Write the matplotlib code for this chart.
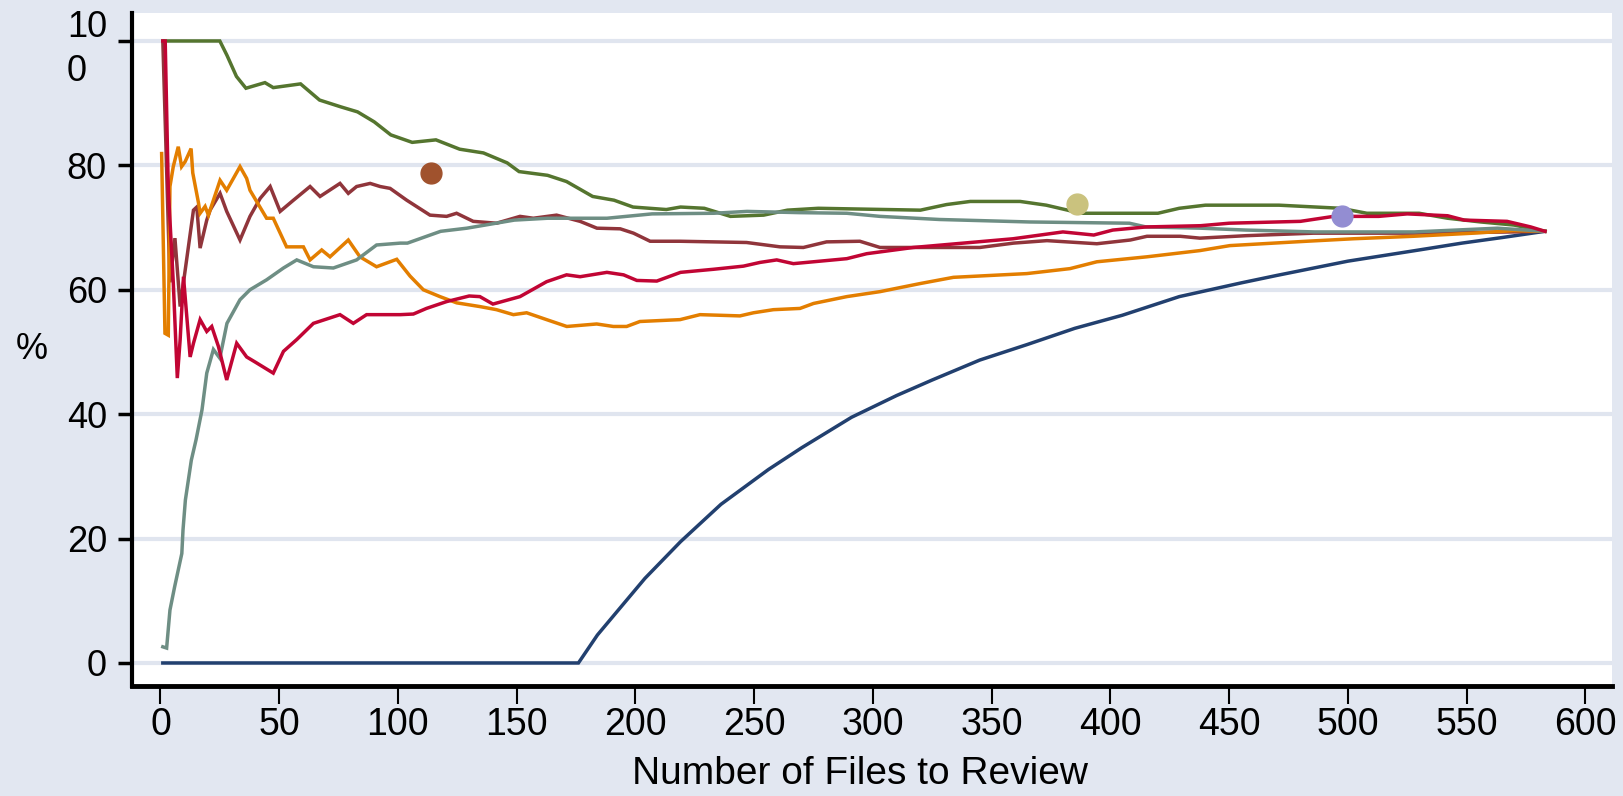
"""Cumulative percentage by number of files reviewed, Stata s2color look."""

import matplotlib
matplotlib.use("Agg")
import matplotlib.pyplot as plt


# DATA

navy_x = [1, 176, 184, 193, 204, 219, 236, 256, 270, 291, 310, 325, 345, 365, 385, 405, 429,
          455, 470, 500, 515, 530, 548, 565, 583]
navy_y = [0, 0, 4.5, 8.6, 13.6, 19.5, 25.5, 31.1, 34.6, 39.5, 43.0, 45.5, 48.7, 51.2, 53.8,
          55.9, 58.9, 61.1, 62.3, 64.6, 65.5, 66.4, 67.5, 68.4, 69.4]

maroon_x = [1, 4, 6.1, 8.3, 13.9, 15.3, 16.7, 19.5, 20.9, 25.1, 27.9, 33.5, 37.7, 42, 46.2,
            50.4, 56, 63, 67.2, 75.6, 79.1, 82.6, 88.3, 92.5, 96.7, 103.7, 113.5, 120.5,
            124.7, 131.7, 141.5, 151.4, 157, 166.8, 176.7, 183.8, 193.6, 199.2, 206.2,
            218.8, 246.8, 260.9, 270.7, 280.5, 294.5, 303, 345, 359.2, 373.3, 394.3,
            408.4, 415.4, 429.4, 437.7, 457.4, 485.5, 527.6, 569.7, 583]
maroon_y = [100, 61.2, 68.3, 57.3, 72.8, 73.3, 66.7, 71.2, 72.8, 75.5, 72.6, 68.0, 71.8, 74.7,
            76.6, 72.6, 74.4, 76.6, 75.0, 77.1, 75.5, 76.6, 77.1, 76.6, 76.3, 74.4, 72.0,
            71.8, 72.3, 71.0, 70.7, 71.8, 71.5, 72.0, 71.0, 69.9, 69.8, 69.1, 67.8, 67.8,
            67.6, 66.9, 66.8, 67.7, 67.8, 66.8, 66.8, 67.5, 67.9, 67.4, 68.0, 68.6, 68.6,
            68.3, 68.7, 69.1, 69.1, 69.3, 69.4]

green_x = [2, 25, 28, 32, 36, 44, 47.5, 59, 67, 76, 83, 90, 97, 106, 116, 126, 136, 146, 151,
           163, 171, 182, 191, 199, 213, 219, 229, 240, 254, 264, 277, 320, 331, 341, 362,
           373, 382, 387, 420, 429, 440, 471, 497, 508, 530, 542, 556, 570, 583]
green_y = [100, 100, 97.7, 94.3, 92.4, 93.3, 92.5, 93.1, 90.5, 89.4, 88.6, 87.0, 84.9, 83.7,
           84.1, 82.6, 82.0, 80.4, 79.0, 78.4, 77.4, 75.0, 74.4, 73.3, 72.9, 73.3, 73.1,
           71.8, 72.0, 72.8, 73.1, 72.8, 73.7, 74.2, 74.2, 73.6, 72.8, 72.3, 72.3, 73.1,
           73.6, 73.6, 73.1, 72.3, 72.3, 71.5, 70.9, 70.4, 69.4]

orange_x = [0.5, 1.9, 3.3, 4, 5.4, 7.5, 8.9, 10.4, 12.9, 13.6, 16, 16.7, 18.8, 20.2, 25.1,
            27.9, 33.5, 36.3, 37.7, 44.7, 47.5, 53.1, 60.2, 63, 67.9, 71.4, 79.1, 84, 91,
            99.5, 105.1, 110.7, 117.7, 124.7, 134.5, 141.5, 148.6, 154.2, 162.6, 171.1,
            183.7, 190.7, 196.3, 201.9, 218.8, 227.2, 244, 249.7, 258.1, 269.3, 275, 289,
            303, 319.9, 333.9, 364.8, 383, 394.3, 415.4, 437.7, 450.3, 482.6, 502.3, 527.6,
            552.8, 569.7, 583]
orange_y = [81.9, 53.0, 52.7, 76.6, 79.8, 83.0, 79.8, 80.6, 82.7, 78.8, 74.0, 72.3, 73.4,
            72.0, 77.6, 76.0, 79.8, 77.9, 76.0, 71.5, 71.5, 66.9, 66.9, 64.8, 66.4, 65.3,
            68.0, 65.3, 63.7, 64.9, 62.2, 60.0, 58.9, 57.9, 57.3, 56.8, 56.0, 56.3, 55.2,
            54.1, 54.5, 54.1, 54.1, 54.9, 55.2, 56.0, 55.8, 56.3, 56.8, 57.0, 57.8, 58.9,
            59.7, 61.0, 62.0, 62.6, 63.4, 64.5, 65.3, 66.3, 67.1, 67.8, 68.2, 68.6, 69.1,
            69.5, 69.4]

teal_x = [1, 2.6, 4, 6, 9, 9.5, 10.5, 13, 15, 17.5, 19.5, 22.3, 25, 28, 33.5, 37.7, 44.7,
          51.8, 57.4, 64.4, 72.8, 82.6, 91, 101, 104, 118, 129, 149, 163, 188, 207, 233,
          247, 269, 289, 303, 328, 366, 408, 415, 438, 457, 486, 528, 563, 583]
teal_y = [2.6, 2.4, 8.5, 12.3, 17.6, 21.4, 26.2, 32.6, 35.9, 40.7, 46.6, 50.4, 49.0, 54.6,
          58.4, 60.0, 61.6, 63.5, 64.8, 63.7, 63.5, 64.8, 67.2, 67.5, 67.5, 69.4, 69.9,
          71.2, 71.5, 71.5, 72.2, 72.3, 72.6, 72.4, 72.3, 71.8, 71.3, 70.9, 70.7, 70.1,
          69.9, 69.6, 69.3, 69.3, 69.9, 69.4]

red_x = [1, 2, 3.3, 5.4, 7.1, 8.3, 9.7, 12.5, 13.9, 16.7, 19.5, 21.6, 24.4, 27.9, 32.1, 36.3,
         39.8, 47.5, 51.8, 57.4, 64.4, 75.6, 81.2, 86.8, 101, 106.5, 112, 120.5, 130, 134.5,
         140, 151.4, 162.6, 171, 176.7, 188, 195, 200.6, 209, 219, 233, 245.5, 252.5,
         259.5, 266.5, 289, 297.4, 317, 338, 359, 380, 393, 401, 415, 438, 450, 480, 494,
         513, 525, 542, 549, 567, 577, 583]
red_y = [100, 100, 76.2, 61.2, 45.8, 52, 62.1, 49.2, 51.4, 55.2, 53.3, 54.1, 50.9, 45.5,
         51.4, 49.2, 48.4, 46.6, 50.1, 52.0, 54.6, 56.0, 54.6, 56.0, 56.0, 56.1, 57.0, 58.1,
         59.0, 58.9, 57.7, 58.9, 61.3, 62.4, 62.1, 62.8, 62.4, 61.5, 61.4, 62.8, 63.3, 63.8,
         64.4, 64.8, 64.2, 65.0, 65.8, 66.8, 67.5, 68.2, 69.3, 68.8, 69.6, 70.1, 70.3, 70.7,
         71.0, 71.8, 71.8, 72.2, 71.9, 71.2, 71.0, 70.1, 69.4]

# single highlighted points
point_x = [114, 386, 497.5]
point_y = [78.8, 73.8, 71.8]

x_ticks = [0, 50, 100, 150, 200, 250, 300, 350, 400, 450, 500, 550, 600]
y_ticks = [0, 20, 40, 60, 80, 100]
y_tick_labels = ["0", "20", "40", "60", "80", "10\n0"]

# Stata s2color palette
BG = "#E2E7F1"
GRID = "#E0E5EF"
LINE_COLORS = ["#22406F", "#90353B", "#55752F", "#E37E00", "#6E8E84", "#C10534"]
POINT_COLORS = ["#A0522D", "#CAC27E", "#938DD2"]


def main():
    plt.rcParams["font.family"] = ["Liberation Sans", "DejaVu Sans"]

    fig = plt.figure(figsize=(16.23, 7.96), dpi=100, facecolor=BG)
    ax = fig.add_axes([0.0813, 0.1382, 0.9119, 0.8455])
    ax.set_facecolor("white")

    series = [(navy_x, navy_y), (maroon_x, maroon_y), (green_x, green_y),
              (orange_x, orange_y), (teal_x, teal_y), (red_x, red_y)]
    for (xs, ys), color in zip(series, LINE_COLORS):
        ax.plot(xs, ys, color=color, linewidth=2.5, solid_joinstyle="miter", zorder=3)

    for px, py, color in zip(point_x, point_y, POINT_COLORS):
        ax.plot(px, py, "o", color=color, markersize=15, zorder=4)

    ax.set_xlim(-12, 611.2)
    ax.set_ylim(-3.7, 104.5)

    ax.set_yticks(y_ticks)
    ax.set_yticklabels(y_tick_labels, fontsize=26)
    for lbl in ax.get_yticklabels():
        lbl.set_multialignment("left")
        lbl.set_linespacing(1.35)
    ax.set_xticks(x_ticks)
    ax.set_xticklabels([str(t) for t in x_ticks], fontsize=27)

    ax.yaxis.grid(True, color=GRID, linewidth=3)
    ax.set_axisbelow(True)

    for side in ["top", "right"]:
        ax.spines[side].set_visible(False)
    ax.spines["left"].set_linewidth(3)
    ax.spines["bottom"].set_linewidth(3.5)
    ax.tick_params(axis="y", length=10, width=2.5, pad=8)
    ax.tick_params(axis="x", length=13, width=1.5, pad=2)

    ax.set_ylabel("%", fontsize=26, rotation=0, va="center")
    ax.yaxis.set_label_coords(-0.068, 0.5)
    fig.text(0.53, 0.028, "Number of Files to Review", fontsize=28,
             ha="center", va="center")

    fig.savefig("out.png", dpi=100, facecolor=BG)
    plt.close(fig)


if __name__ == "__main__":
    main()
